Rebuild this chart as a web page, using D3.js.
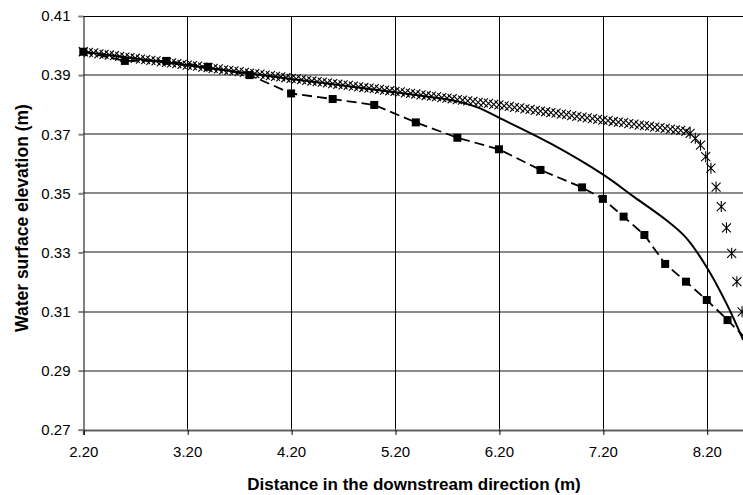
<!DOCTYPE html>
<html><head><meta charset="utf-8">
<script src="https://cdn.jsdelivr.net/npm/d3@7"></script>
<style>
body{margin:0;background:#fff}
svg{display:block}
text{font-family:"Liberation Sans",Arial,sans-serif;fill:#000}
</style>
</head><body>
<svg id="chart" width="743" height="495"></svg>
<script>
// ---- data ----
const xTickValues = [2.2, 3.2, 4.2, 5.2, 6.2, 7.2, 8.2];
const yTickValues = [0.27, 0.29, 0.31, 0.33, 0.35, 0.37, 0.39, 0.41];

// measured profile: dashed line with squares
const measX = [2.2, 2.6, 3.0, 3.4, 3.8, 4.2, 4.6, 5.0, 5.4, 5.8, 6.2, 6.6, 7.0, 7.2, 7.4, 7.6, 7.8, 8.0, 8.2, 8.4, 8.6];
const measY = [0.3979, 0.3948, 0.3948, 0.3928, 0.3900, 0.3838, 0.3819, 0.3799, 0.3740, 0.3688, 0.3649, 0.3579, 0.3520, 0.3481, 0.3421, 0.3359, 0.3261, 0.3201, 0.3139, 0.3071, 0.3000];

// solid (smoothed) line
const solidX = [2.2, 3.2, 4.2, 5.2, 5.6, 5.8, 6.0, 6.2, 6.7, 7.2, 7.5, 7.8, 8.0, 8.2, 8.4, 8.55];
const solidY = [0.3979, 0.3933, 0.3887, 0.3842, 0.3823, 0.3811, 0.3790, 0.3756, 0.3668, 0.3564, 0.3488, 0.3412, 0.3350, 0.3250, 0.3120, 0.3004];

// dense series with x markers
const crossX = [2.20,2.25,2.30,2.35,2.40,2.45,2.50,2.55,2.60,2.65,2.70,2.75,2.80,2.85,2.90,2.95,
  3.00,3.05,3.10,3.15,3.20,3.25,3.30,3.35,3.40,3.45,3.50,3.55,3.60,3.65,3.70,3.75,3.80,3.85,3.90,3.95,
  4.00,4.05,4.10,4.15,4.20,4.25,4.30,4.35,4.40,4.45,4.50,4.55,4.60,4.65,4.70,4.75,4.80,4.85,4.90,4.95,
  5.00,5.05,5.10,5.15,5.20,5.25,5.30,5.35,5.40,5.45,5.50,5.55,5.60,5.65,5.70,5.75,5.80,5.85,5.90,5.95,
  6.00,6.05,6.10,6.15,6.20,6.25,6.30,6.35,6.40,6.45,6.50,6.55,6.60,6.65,6.70,6.75,6.80,6.85,6.90,6.95,
  7.00,7.05,7.10,7.15,7.20,7.25,7.30,7.35,7.40,7.45,7.50,7.55,7.60,7.65,7.70,7.75,7.80,7.85,7.90,7.95,8.00];
const crossY = [0.3979,0.3977,0.3975,0.3972,0.3970,0.3968,0.3966,0.3963,0.3961,0.3959,0.3957,0.3954,0.3952,0.3950,0.3948,0.3945,
  0.3943,0.3941,0.3939,0.3936,0.3934,0.3932,0.3930,0.3927,0.3925,0.3923,0.3921,0.3918,0.3916,0.3914,0.3912,0.3909,0.3907,0.3905,0.3903,0.3900,
  0.3898,0.3896,0.3894,0.3891,0.3889,0.3887,0.3885,0.3882,0.3880,0.3878,0.3876,0.3874,0.3871,0.3869,0.3867,0.3865,0.3863,0.3860,0.3858,0.3856,
  0.3854,0.3852,0.3849,0.3847,0.3845,0.3843,0.3840,0.3838,0.3836,0.3833,0.3831,0.3829,0.3827,0.3824,0.3822,0.3820,0.3817,0.3815,0.3813,0.3811,
  0.3808,0.3806,0.3804,0.3801,0.3799,0.3796,0.3794,0.3791,0.3789,0.3786,0.3784,0.3781,0.3778,0.3776,0.3773,0.3771,0.3768,0.3766,0.3763,0.3760,
  0.3758,0.3755,0.3753,0.3750,0.3748,0.3746,0.3743,0.3741,0.3739,0.3736,0.3734,0.3731,0.3729,0.3727,0.3724,0.3722,0.3720,0.3717,0.3715,0.3713,0.3710];

// tail series with asterisk markers
const starX = [8.04, 8.09, 8.14, 8.19, 8.24, 8.29, 8.34, 8.39, 8.44, 8.49, 8.54];
const starY = [0.3703, 0.3686, 0.3663, 0.3624, 0.3585, 0.3521, 0.3455, 0.3383, 0.3297, 0.3201, 0.3099];

const xTitle = "Distance in the downstream direction (m)";
const yTitle = "Water surface elevation (m)";

// ---- layout ----
const L = 83.3, R = 748.3, T = 16, B = 429.7;
const svg = d3.select("#chart");
const x = d3.scaleLinear().domain([2.2, 8.6]).range([L, R]);
const y = d3.scaleLinear().domain([0.27, 0.41]).range([B, T]);
const zip = (a, b) => a.map((v, i) => [v, b[i]]);

// horizontal gridlines (gray)
svg.append("g").selectAll("line").data(yTickValues.filter(v => v > 0.28 && v < 0.40)).join("line")
  .attr("x1", L).attr("x2", R)
  .attr("y1", d => Math.round(y(d))).attr("y2", d => Math.round(y(d)))
  .attr("stroke", "#8a8a8a").attr("stroke-width", 2);
// vertical gridlines (black)
svg.append("g").selectAll("line").data(xTickValues.slice(1)).join("line")
  .attr("x1", d => Math.round(x(d)) + 0.5).attr("x2", d => Math.round(x(d)) + 0.5)
  .attr("y1", T).attr("y2", B)
  .attr("stroke", "#000").attr("stroke-width", 1);
// top border
svg.append("line").attr("x1", L).attr("x2", R).attr("y1", T + 0.5).attr("y2", T + 0.5)
  .attr("stroke", "#000").attr("stroke-width", 1);

// axes
const yAxis = d3.axisLeft(y).tickValues(yTickValues).tickFormat(d3.format(".2f")).tickSize(5).tickPadding(8);
const gy = svg.append("g").attr("transform", `translate(${Math.round(L) + 0.5},0)`).call(yAxis);
gy.select(".domain").attr("stroke", "#000").attr("stroke-width", 1);
gy.selectAll(".tick line").attr("stroke", "#808080").attr("stroke-width", 2);
gy.selectAll(".tick text").style("font-size", "15px").attr("fill", "#000");

const xAxis = d3.axisBottom(x).tickValues(xTickValues).tickFormat(d3.format(".2f")).tickSize(5).tickPadding(11);
const gx = svg.append("g").attr("transform", `translate(0,${Math.round(B)})`).call(xAxis);
gx.select(".domain").attr("stroke", "#606060").attr("stroke-width", 2);
gx.selectAll(".tick line").attr("stroke", "#000").attr("stroke-width", 1)
  .attr("transform", "translate(0.5,0)");
gx.selectAll(".tick text").style("font-size", "15px").attr("fill", "#000");

// titles
svg.append("text").attr("x", 414).attr("y", 490).attr("text-anchor", "middle")
  .style("font-size", "17px").style("font-weight", "bold").text(xTitle);
svg.append("text").attr("transform", "translate(28,218) rotate(-90)").attr("text-anchor", "middle")
  .style("font-size", "17.5px").style("font-weight", "bold").text(yTitle);

// ---- series ----
const plot = svg.append("g");

// dense x-marker series
const cs = 4.5;
plot.append("g").selectAll("path").data(zip(crossX, crossY)).join("path")
  .attr("d", d => {
    const cx = x(d[0]), cy = y(d[1]);
    return `M${cx - cs},${cy - cs}L${cx + cs},${cy + cs}M${cx - cs},${cy + cs}L${cx + cs},${cy - cs}`;
  })
  .attr("stroke", "#000").attr("stroke-width", 1.1).attr("fill", "none");

// asterisk tail
const as = 4.5;
plot.append("g").selectAll("path").data(zip(starX, starY)).join("path")
  .attr("d", d => {
    const cx = x(d[0]), cy = y(d[1]);
    return `M${cx - as},${cy - as}L${cx + as},${cy + as}M${cx - as},${cy + as}L${cx + as},${cy - as}M${cx},${cy - as - 1}L${cx},${cy + as + 1}`;
  })
  .attr("stroke", "#000").attr("stroke-width", 1.1).attr("fill", "none");

// solid smoothed line
plot.append("path").datum(zip(solidX, solidY))
  .attr("d", d3.line().x(d => x(d[0])).y(d => y(d[1])).curve(d3.curveCatmullRom.alpha(0.5)))
  .attr("fill", "none").attr("stroke", "#000").attr("stroke-width", 2);

// dashed measured line + squares
plot.append("path").datum(zip(measX, measY))
  .attr("d", d3.line().x(d => x(d[0])).y(d => y(d[1])))
  .attr("fill", "none").attr("stroke", "#000").attr("stroke-width", 1.8)
  .attr("stroke-dasharray", "10,5");
const sq = 8;
plot.append("g").selectAll("rect").data(zip(measX, measY)).join("rect")
  .attr("x", d => x(d[0]) - sq / 2).attr("y", d => y(d[1]) - sq / 2)
  .attr("width", sq).attr("height", sq).attr("fill", "#000");
</script>
</body></html>
